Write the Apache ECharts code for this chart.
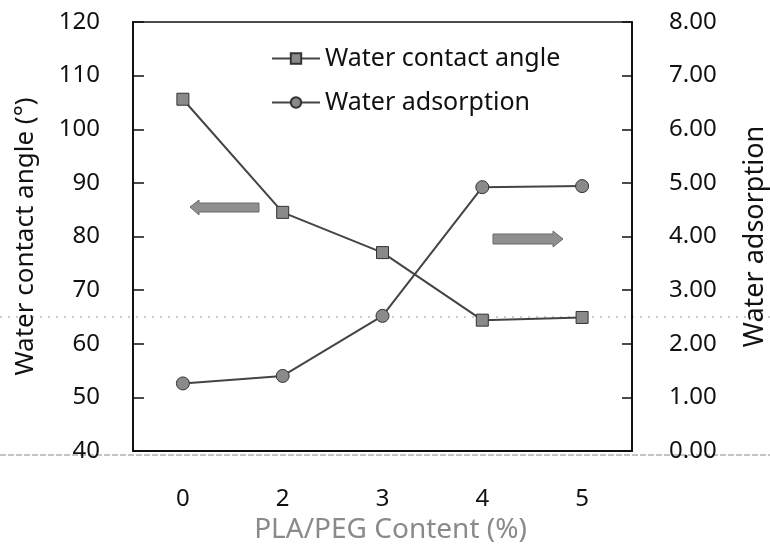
<!DOCTYPE html>
<html>
<head>
<meta charset="utf-8">
<script src="https://cdn.jsdelivr.net/npm/echarts@6/dist/echarts.min.js"></script>
<style>
  html, body { margin: 0; padding: 0; background: #fff; }
  #chart { width: 770px; height: 552px; }
</style>
</head>
<body>
<div id="chart"></div>
<script>
// PLA/PEG content categories (%)
const categories = ['0', '2', '3', '4', '5'];
// Water contact angle (°), left axis
const contactAngle = [105.6, 84.5, 77.0, 64.4, 64.9];
// Water adsorption, right axis
const waterAdsorption = [1.26, 1.40, 2.52, 4.92, 4.94];

const FONT = 'Noto Sans';
const INK = '#111';

const chart = echarts.init(document.getElementById('chart'), null, { renderer: 'canvas' });

chart.setOption({
  backgroundColor: '#fff',
  animation: false,
  textStyle: { fontFamily: FONT },
  grid: {
    left: 133, right: 138, top: 22, bottom: 101,
    containLabel: false, outerBoundsMode: 'none',
    show: true, borderColor: INK, borderWidth: 1.5
  },
  legend: {
    left: 266, top: 41, orient: 'vertical',
    itemWidth: 48, itemHeight: 13, itemGap: 19,
    textStyle: { fontSize: 25, color: INK, fontFamily: FONT },
    data: ['Water contact angle', 'Water adsorption']
  },
  xAxis: {
    type: 'category',
    data: categories,
    boundaryGap: true,
    name: 'PLA/PEG Content (%)',
    nameLocation: 'middle',
    nameGap: 63,
    nameTextStyle: { fontSize: 28, color: '#8a8a8a', fontFamily: FONT, padding: [0, 0, 0, 16] },
    axisLine: { lineStyle: { color: INK, width: 2 } },
    axisTick: { inside: true, alignWithLabel: true, length: 8, lineStyle: { color: INK, width: 1.5 } },
    axisLabel: { fontSize: 24, color: INK, margin: 36 },
    splitLine: { show: false }
  },
  yAxis: [
    {
      type: 'value', min: 40, max: 120, interval: 10,
      name: 'Water contact angle (°)',
      nameLocation: 'middle', nameGap: 94, nameRotate: 90,
      nameTextStyle: { fontSize: 26, color: INK, fontFamily: FONT },
      axisLine: { show: true, lineStyle: { color: INK, width: 2 } },
      axisTick: { show: true, inside: true, length: 11, lineStyle: { color: INK, width: 1.5 } },
      axisLabel: { fontSize: 24, color: INK, margin: 33 },
      splitLine: { show: false }
    },
    {
      type: 'value', min: 0, max: 8, interval: 1,
      name: 'Water adsorption',
      nameLocation: 'middle', nameGap: 110, nameRotate: 90,
      nameTextStyle: { fontSize: 27, color: INK, fontFamily: FONT },
      axisLine: { show: true, lineStyle: { color: INK, width: 2 } },
      axisTick: { show: true, inside: true, length: 10, lineStyle: { color: INK, width: 1.5 } },
      axisLabel: { fontSize: 24, color: INK, margin: 37, formatter: v => v.toFixed(2) },
      splitLine: { show: false }
    }
  ],
  series: [
    {
      name: 'Water contact angle',
      type: 'line',
      yAxisIndex: 0,
      data: contactAngle,
      symbol: 'rect', symbolSize: 12,
      lineStyle: { color: '#444', width: 2 },
      itemStyle: { color: '#8a8a8a', borderColor: '#333', borderWidth: 1 }
    },
    {
      name: 'Water adsorption',
      type: 'line',
      yAxisIndex: 1,
      data: waterAdsorption,
      symbol: 'circle', symbolSize: 13,
      lineStyle: { color: '#444', width: 2 },
      itemStyle: { color: '#8a8a8a', borderColor: '#333', borderWidth: 1 }
    }
  ],
  graphic: [
    // faint dotted rule across the page
    { type: 'line', shape: { x1: 0, y1: 317, x2: 770, y2: 317 }, z: -1,
      style: { stroke: '#9a9a9a', lineWidth: 1, lineDash: [2, 6] } },
    // dashed rule along the baseline
    { type: 'line', shape: { x1: 0, y1: 455, x2: 770, y2: 455 }, z: -1,
      style: { stroke: '#8a8a8a', lineWidth: 1.2, lineDash: [6, 2] } },
    // arrow pointing to the left axis
    { type: 'polygon', z: 10,
      shape: { points: [[190, 207], [199, 200], [199, 203], [259, 203], [259, 212], [199, 212], [199, 215]] },
      style: { fill: '#8f8f8f', stroke: '#6a6a6a', lineWidth: 1 } },
    // arrow pointing to the right axis
    { type: 'polygon', z: 10,
      shape: { points: [[493, 234], [553, 234], [553, 231], [563, 239], [553, 247], [553, 244], [493, 244]] },
      style: { fill: '#8f8f8f', stroke: '#6a6a6a', lineWidth: 1 } }
  ]
});
</script>
</body>
</html>
